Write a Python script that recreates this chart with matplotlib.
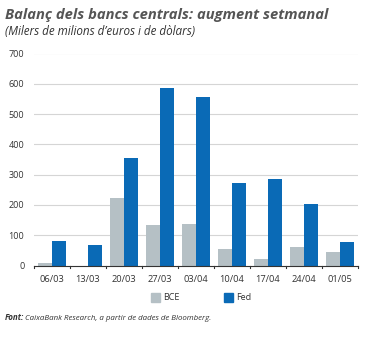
import matplotlib
matplotlib.use("Agg")
import matplotlib.pyplot as plt
import numpy as np

categories = ["06/03", "13/03", "20/03", "27/03", "03/04", "10/04", "17/04", "24/04", "01/05"]
bce = [8, 0, 222, 134, 136, 54, 21, 61, 44]
fed = [81, 69, 356, 586, 557, 272, 284, 203, 79]
yticks = [0, 100, 200, 300, 400, 500, 600, 700]

C_BCE = "#b5c0c5"
C_FED = "#0a6ab6"
TXT = "#333333"

plt.rcParams['font.family'] = ['Open Sans', 'DejaVu Sans']

fig = plt.figure(figsize=(3.68, 3.38), dpi=100)
ax = fig.add_axes([34/368, 1-265.5/338, 324/368, 212/338])

x = np.arange(len(categories))
w = 0.38
ax.bar(x - w/2, bce, width=w, color=C_BCE, zorder=3)
ax.bar(x + w/2, fed, width=w, color=C_FED, zorder=3)

ax.set_xlim(-0.5, len(categories) - 0.5)
ax.set_ylim(0, 700)
ax.set_yticks(yticks)
ax.set_yticklabels([str(v) for v in yticks], fontsize=6.5, color=TXT)
for v in yticks[1:]:
    ax.axhline(v, color="#d5d5d5", lw=0.8, zorder=1)

ax.set_xticks(x)
ax.set_xticklabels(categories, fontsize=6.7, color=TXT)
ax.tick_params(axis='x', length=0, pad=7)
ax.tick_params(axis='y', length=0, pad=7)
for b in np.arange(-0.5, len(categories), 1.0):
    ax.plot([b, b], [0, -8], color="#333333", lw=0.8, clip_on=False, zorder=4)

for s in ["top", "right", "left"]:
    ax.spines[s].set_visible(False)
ax.spines["bottom"].set_color("#333333")
ax.spines["bottom"].set_linewidth(0.8)
ax.spines["bottom"].set_zorder(4)

fig.text(5/368, 1-15/338, "Balanç dels bancs centrals: augment setmanal", fontsize=10.6,
         fontweight="bold", fontstyle="italic", color="#555555", va="center", ha="left")
fig.text(5/368, 1-31.5/338, "(Milers de milions d\u2019euros i de dòlars)", fontsize=8.4,
         fontstyle="italic", color=TXT, va="center", ha="left")

# legend
fig.patches.append(plt.Rectangle((151/368, 1-302/338), 9/368, 9/338, transform=fig.transFigure,
                                 color=C_BCE, figure=fig))
fig.text(163/368, 1-297.5/338, "BCE", fontsize=6.5, color=TXT, va="center", ha="left")
fig.patches.append(plt.Rectangle((224/368, 1-302/338), 9/368, 9/338, transform=fig.transFigure,
                                 color=C_FED, figure=fig))
fig.text(236/368, 1-297.5/338, "Fed", fontsize=6.5, color=TXT, va="center", ha="left")

fig.text(5/368, 1-318/338, "Font:", fontsize=5.8, fontweight="bold", fontstyle="italic",
         color=TXT, va="center", ha="left")
fig.text(25/368, 1-318/338, "CaixaBank Research, a partir de dades de Bloomberg.", fontsize=5.7,
         fontstyle="italic", color=TXT, va="center", ha="left")

fig.savefig("out.png", dpi=100)
